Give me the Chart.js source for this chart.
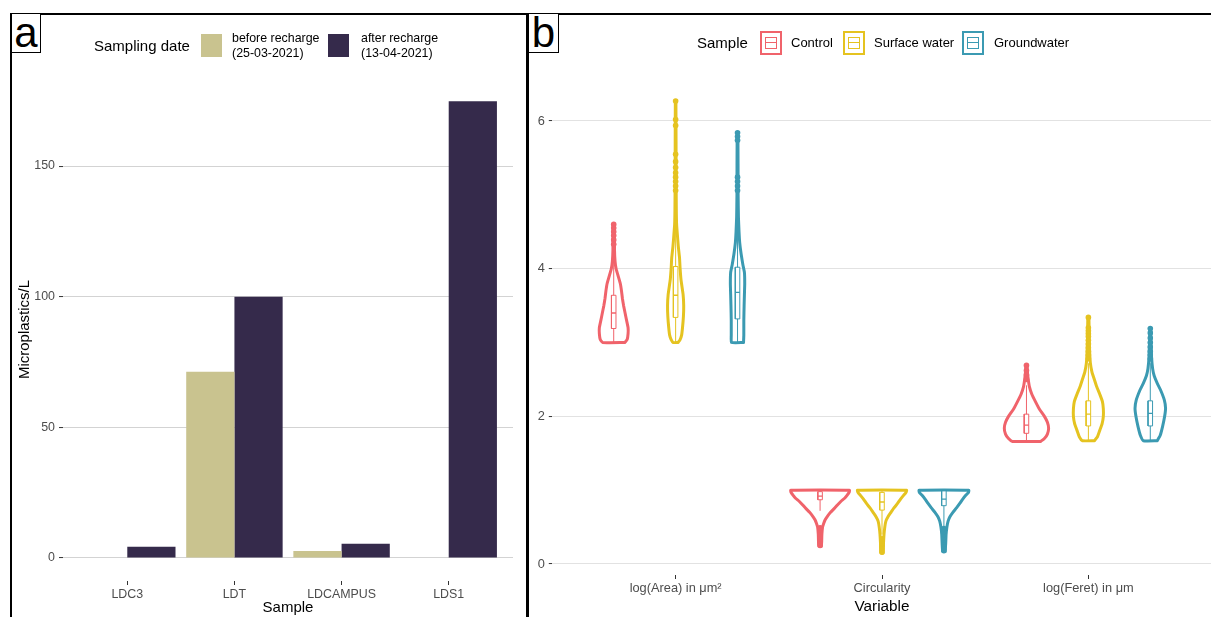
<!DOCTYPE html>
<html>
<head>
<meta charset="utf-8">
<script src="https://cdn.jsdelivr.net/npm/chart.js@4.4.1/dist/chart.umd.min.js"></script>
<style>
  html, body { margin: 0; padding: 0; background: #fff; overflow: hidden; width: 1211px; height: 617px; }
  body { position: relative; font-family: 'Liberation Sans', Arial, sans-serif; color: #000; }
  .abs { position: absolute; }
  #frameTop { left: 10px; top: 13px; width: 1201px; height: 2px; background: #000; }
  #frameLeft { left: 10px; top: 13px; width: 2px; height: 604px; background: #000; }
  #divider { left: 526px; top: 13px; width: 3px; height: 604px; background: #000; }
  .tag { position: absolute; top: 14px; height: 38px; border-right: 1px solid #000; border-bottom: 1px solid #000;
         font-size: 42px; line-height: 38px; text-align: center; color: #000; background: #fff; overflow: hidden; }
  #tagA { left: 12px; width: 28px; }
  #tagB { left: 529px; width: 29px; }
  .legTitle { font-size: 15px; line-height: 18px; white-space: nowrap; }
  .legA { font-size: 12.4px; line-height: 14.6px; white-space: nowrap; }
  .legB { font-size: 13px; line-height: 16px; white-space: nowrap; top: 35px; }
  .swatch { position: absolute; top: 34px; width: 21px; height: 23px; }
  .key { position: absolute; top: 31px; width: 22px; height: 24px; box-sizing: border-box; border: 2.5px solid; background: #fff; }
  .key .kb { position: absolute; left: 3px; right: 3px; top: 4px; bottom: 4px; border: 1px solid; }
  .key .km { position: absolute; left: 3px; right: 3px; top: 9px; height: 1px; }
  canvas { position: absolute; }
</style>
</head>
<body>
<div id="frameTop" class="abs"></div>
<div id="frameLeft" class="abs"></div>
<div id="divider" class="abs"></div>

<canvas id="chartA" width="514" height="601" style="left:12px;top:16px;width:514px;height:601px"></canvas>
<canvas id="chartB" width="686" height="601" style="left:529px;top:16px;width:686px;height:601px"></canvas>

<div id="tagA" class="tag">a</div>
<div id="tagB" class="tag">b</div>

<!-- legend, panel a -->
<div class="abs legTitle" style="left:94px;top:37px">Sampling date</div>
<div class="swatch" id="swBefore" style="left:201px"></div>
<div class="abs legA" style="left:232px;top:31px">before recharge<br>(25-03-2021)</div>
<div class="swatch" id="swAfter" style="left:328px"></div>
<div class="abs legA" style="left:361px;top:31px">after recharge<br>(13-04-2021)</div>

<!-- legend, panel b -->
<div class="abs legTitle" style="left:697px;top:34px">Sample</div>
<div id="legendB"></div>

<script>
// ---------- panel a: microplastic counts per sample ----------
const sampleNames = ['LDC3', 'LDT', 'LDCAMPUS', 'LDS1'];
const beforeRecharge = [0, 71.3, 2.7, 0];
const afterRecharge = [4.3, 100, 5.5, 174.8];
const countTicks = [0, 50, 100, 150];

// ---------- panel b: particle shape descriptors ----------
const variableNames = ['log(Area) in μm²', 'Circularity', 'log(Feret) in μm'];
const groupNames = ['Control', 'Surface water', 'Groundwater'];
const shapeTicks = [0, 2, 4, 6];

// violin outlines: levels (y) and relative kernel density at each level
const areaControlLevels  = [3.00, 3.04, 3.12, 3.20, 3.30, 3.40, 3.50, 3.60, 3.70, 3.80, 3.90, 4.00, 4.10, 4.25, 4.60];
const areaControlDensity = [0.37, 0.45, 0.48, 0.48, 0.43, 0.38, 0.33, 0.29, 0.26, 0.22, 0.15, 0.08, 0.045, 0.027, 0.02];
const areaSurfaceLevels  = [3.00, 3.04, 3.10, 3.20, 3.35, 3.50, 3.65, 3.85, 4.00, 4.15, 4.30, 4.45, 4.60, 4.80, 5.20, 6.27];
const areaSurfaceDensity = [0.08, 0.15, 0.20, 0.23, 0.26, 0.27, 0.25, 0.18, 0.15, 0.13, 0.09, 0.06, 0.033, 0.023, 0.017, 0.01];
const areaGroundLevels   = [3.00, 3.10, 3.30, 3.50, 3.65, 3.80, 3.95, 4.05, 4.20, 4.35, 4.50, 4.70, 5.00, 5.84];
const areaGroundDensity  = [0.20, 0.21, 0.21, 0.22, 0.23, 0.24, 0.23, 0.18, 0.12, 0.073, 0.05, 0.03, 0.02, 0.013];

const circControlLevels  = [0.24, 0.30, 0.40, 0.50, 0.55, 0.60, 0.65, 0.70, 0.75, 0.80, 0.85, 0.89, 0.93, 0.97, 1.00];
const circControlDensity = [0.04, 0.053, 0.06, 0.083, 0.12, 0.17, 0.25, 0.35, 0.47, 0.58, 0.70, 0.82, 0.90, 0.97, 0.98];
const circSurfaceLevels  = [0.15, 0.28, 0.40, 0.50, 0.58, 0.64, 0.70, 0.76, 0.82, 0.88, 0.93, 0.97, 1.00];
const circSurfaceDensity = [0.033, 0.05, 0.067, 0.093, 0.13, 0.20, 0.30, 0.40, 0.52, 0.62, 0.72, 0.80, 0.82];
const circGroundLevels   = [0.17, 0.28, 0.40, 0.50, 0.58, 0.64, 0.70, 0.76, 0.82, 0.88, 0.93, 0.97, 1.00];
const circGroundDensity  = [0.04, 0.06, 0.073, 0.10, 0.14, 0.20, 0.30, 0.42, 0.53, 0.63, 0.73, 0.82, 0.83];

const feretControlLevels  = [1.66, 1.70, 1.76, 1.84, 1.92, 2.00, 2.10, 2.20, 2.30, 2.40, 2.50, 2.60, 2.69];
const feretControlDensity = [0.47, 0.60, 0.70, 0.74, 0.70, 0.60, 0.43, 0.30, 0.18, 0.10, 0.06, 0.033, 0.02];
const feretSurfaceLevels  = [1.67, 1.72, 1.81, 1.90, 2.00, 2.10, 2.20, 2.30, 2.40, 2.50, 2.60, 2.72, 2.90, 3.10, 3.34];
const feretSurfaceDensity = [0.20, 0.30, 0.38, 0.46, 0.50, 0.50, 0.47, 0.38, 0.28, 0.20, 0.12, 0.067, 0.04, 0.027, 0.017];
const feretGroundLevels   = [1.67, 1.74, 1.86, 2.00, 2.11, 2.22, 2.36, 2.45, 2.55, 2.65, 2.80, 3.00, 3.19];
const feretGroundDensity  = [0.23, 0.33, 0.41, 0.48, 0.51, 0.47, 0.34, 0.23, 0.13, 0.077, 0.043, 0.027, 0.017];

// boxplot summaries: [lower whisker, Q1, median, Q3, upper whisker]
const areaControlBox  = [3.00, 3.19, 3.40, 3.64, 4.28];
const areaSurfaceBox  = [3.00, 3.34, 3.64, 4.03, 5.00];
const areaGroundBox   = [3.00, 3.32, 3.68, 4.02, 5.00];
const circControlBox  = [0.72, 0.87, 0.92, 0.98, 1.00];
const circSurfaceBox  = [0.40, 0.73, 0.84, 0.97, 1.00];
const circGroundBox   = [0.50, 0.79, 0.88, 0.99, 1.00];
const feretControlBox = [1.66, 1.77, 1.88, 2.03, 2.42];
const feretSurfaceBox = [1.67, 1.87, 2.03, 2.21, 2.72];
const feretGroundBox  = [1.67, 1.87, 2.04, 2.21, 2.72];

// boxplot outliers
const areaControlOutliers  = [4.60, 4.55, 4.50, 4.45, 4.39, 4.33];
const areaSurfaceOutliers  = [6.27, 6.02, 5.94, 5.55, 5.45, 5.37, 5.30, 5.24, 5.18, 5.12, 5.06];
const areaGroundOutliers   = [5.84, 5.79, 5.74, 5.24, 5.18, 5.12, 5.06];
const circControlOutliers  = [0.25, 0.28, 0.31, 0.34, 0.37, 0.40, 0.43, 0.46, 0.49];
const circSurfaceOutliers  = [0.16, 0.19, 0.22, 0.25, 0.28, 0.31, 0.34];
const circGroundOutliers   = [0.18, 0.21, 0.24, 0.27, 0.30, 0.33, 0.36, 0.40, 0.44, 0.48];
const feretControlOutliers = [2.69, 2.62, 2.56, 2.50];
const feretSurfaceOutliers = [3.34, 3.20, 3.16, 3.12, 3.08, 3.03, 2.98, 2.93, 2.88, 2.83, 2.78];
const feretGroundOutliers  = [3.19, 3.13, 3.06, 3.00, 2.94, 2.88, 2.83, 2.78];

// ---------- styling ----------
const FONT = "'Liberation Sans', Arial, sans-serif";
const barColors = ['#C9C38F', '#352A4B'];
const groupColors = ['#F0636B', '#E5C320', '#3B9AB2'];

document.getElementById('swBefore').style.background = barColors[0];
document.getElementById('swAfter').style.background = barColors[1];

// legend keys for panel b
(function () {
  const host = document.getElementById('legendB');
  const keyLeft = [760, 843, 962];
  const textLeft = [791, 874, 994];
  groupNames.forEach((name, i) => {
    const c = groupColors[i];
    const key = document.createElement('div');
    key.className = 'key';
    key.style.left = keyLeft[i] + 'px';
    key.style.borderColor = c;
    key.innerHTML = '<div class="kb" style="border-color:' + c + '"></div><div class="km" style="background:' + c + '"></div>';
    host.appendChild(key);
    const lab = document.createElement('div');
    lab.className = 'abs legB';
    lab.style.left = textLeft[i] + 'px';
    lab.textContent = name;
    host.appendChild(lab);
  });
})();

const fixedTicks = (values) => (scale) => { scale.ticks = values.map(v => ({ value: v })); };

// ---------- panel a chart ----------
new Chart(document.getElementById('chartA'), {
  type: 'bar',
  data: {
    datasets: [
      { label: 'before recharge (25-03-2021)', data: beforeRecharge.map((v, i) => ({ x: i + 1, y: v })),
        backgroundColor: barColors[0], borderWidth: 0 },
      { label: 'after recharge (13-04-2021)', data: afterRecharge.map((v, i) => ({ x: i + 1, y: v })),
        backgroundColor: barColors[1], borderWidth: 0 }
    ]
  },
  options: {
    responsive: false, animation: false, events: [],
    categoryPercentage: 0.9, barPercentage: 1.0,
    layout: { padding: { left: 0, right: 13, top: 62, bottom: 0 } },
    plugins: { legend: { display: false }, tooltip: { enabled: false } },
    scales: {
      x: {
        type: 'linear', min: 0.4, max: 4.6, offset: false,
        afterBuildTicks: fixedTicks(sampleNames.map((_, i) => i + 1)),
        afterFit: (s) => { s.height = 36; },
        border: { display: false },
        grid: { offset: false, drawOnChartArea: false, drawTicks: true, tickLength: 4, tickColor: '#333', tickWidth: 1 },
        ticks: { autoSkip: false, maxRotation: 0, padding: 2, color: '#4d4d4d', font: { family: FONT, size: 12.4 },
                 callback: (v) => sampleNames[v - 1] },
        title: { display: true, text: 'Sample', color: '#000', font: { family: FONT, size: 15 }, padding: { top: 0, bottom: 0 } }
      },
      y: {
        type: 'linear', min: -8.8, max: 183.7,
        afterBuildTicks: fixedTicks(countTicks),
        afterFit: (s) => { s.width = 51; },
        border: { display: false },
        grid: { color: '#d3d3d3', lineWidth: 1.1, drawTicks: true, tickLength: 4, tickColor: '#333', tickWidth: 1 },
        ticks: { padding: 4, color: '#4d4d4d', font: { family: FONT, size: 12.4 } },
        title: { display: true, text: 'Microplastics/L', color: '#000', font: { family: FONT, size: 15 }, padding: { top: 4, bottom: 0 } }
      }
    }
  }
});

// ---------- panel b chart ----------
const violinSet = [
  { v: 0, g: 0, levels: areaControlLevels,  density: areaControlDensity,  box: areaControlBox,  out: areaControlOutliers },
  { v: 0, g: 1, levels: areaSurfaceLevels,  density: areaSurfaceDensity,  box: areaSurfaceBox,  out: areaSurfaceOutliers },
  { v: 0, g: 2, levels: areaGroundLevels,   density: areaGroundDensity,   box: areaGroundBox,   out: areaGroundOutliers },
  { v: 1, g: 0, levels: circControlLevels,  density: circControlDensity,  box: circControlBox,  out: circControlOutliers },
  { v: 1, g: 1, levels: circSurfaceLevels,  density: circSurfaceDensity,  box: circSurfaceBox,  out: circSurfaceOutliers },
  { v: 1, g: 2, levels: circGroundLevels,   density: circGroundDensity,   box: circGroundBox,   out: circGroundOutliers },
  { v: 2, g: 0, levels: feretControlLevels, density: feretControlDensity, box: feretControlBox, out: feretControlOutliers },
  { v: 2, g: 1, levels: feretSurfaceLevels, density: feretSurfaceDensity, box: feretSurfaceBox, out: feretSurfaceOutliers },
  { v: 2, g: 2, levels: feretGroundLevels,  density: feretGroundDensity,  box: feretGroundBox,  out: feretGroundOutliers }
];

const DODGE = [-0.3, 0, 0.3];   // group offset within a variable
const VIOLIN_HALF = 0.145;      // half width of the widest violin, in x units
const BOX_HALF = 0.011;         // half width of the boxplot

const shapeDatasets = [];
violinSet.forEach(vs => {
  const col = groupColors[vs.g];
  const cx = vs.v + 1 + DODGE[vs.g];
  const right = vs.levels.map((y, i) => ({ x: cx + vs.density[i] * VIOLIN_HALF, y }));
  const left = vs.levels.map((y, i) => ({ x: cx - vs.density[i] * VIOLIN_HALF, y })).reverse();
  const [lo, q1, med, q3, hi] = vs.box;
  const base = { showLine: true, pointRadius: 0, pointHoverRadius: 0, fill: false };

  shapeDatasets.push(Object.assign({}, base, {
    label: groupNames[vs.g], data: right.concat(left, [right[0]]),
    borderColor: col, borderWidth: 3, tension: 0.15, borderJoinStyle: 'round', borderCapStyle: 'round', order: 5
  }));
  shapeDatasets.push({
    data: vs.out.map(y => ({ x: cx, y })), showLine: false,
    pointRadius: 2.8, pointHoverRadius: 0, pointBackgroundColor: col, pointBorderWidth: 0, order: 4
  });
  shapeDatasets.push(Object.assign({}, base, {
    data: [{ x: cx, y: lo }, { x: cx, y: hi }], borderColor: col, borderWidth: 1, order: 3
  }));
  shapeDatasets.push(Object.assign({}, base, {
    data: [{ x: cx - BOX_HALF, y: q1 }, { x: cx + BOX_HALF, y: q1 }, { x: cx + BOX_HALF, y: q3 },
           { x: cx - BOX_HALF, y: q3 }, { x: cx - BOX_HALF, y: q1 }],
    borderColor: col, borderWidth: 1, backgroundColor: '#ffffff', fill: 'shape', order: 2
  }));
  shapeDatasets.push(Object.assign({}, base, {
    data: [{ x: cx - BOX_HALF, y: med }, { x: cx + BOX_HALF, y: med }], borderColor: col, borderWidth: 1.3, order: 1
  }));
});

new Chart(document.getElementById('chartB'), {
  type: 'scatter',
  data: { datasets: shapeDatasets },
  options: {
    responsive: false, animation: false, events: [],
    layout: { padding: { left: 0, right: 0, top: 62, bottom: 0 } },
    plugins: { legend: { display: false }, tooltip: { enabled: false } },
    scales: {
      x: {
        type: 'linear', min: 0.4, max: 3.6, offset: false,
        afterBuildTicks: fixedTicks(variableNames.map((_, i) => i + 1)),
        afterFit: (s) => { s.height = 42; },
        border: { display: false },
        grid: { drawOnChartArea: false, drawTicks: true, tickLength: 4, tickColor: '#333', tickWidth: 1 },
        ticks: { autoSkip: false, maxRotation: 0, padding: 2, color: '#4d4d4d', font: { family: FONT, size: 12.8 },
                 callback: (v) => variableNames[v - 1] },
        title: { display: true, text: 'Variable', color: '#000', font: { family: FONT, size: 15.3 }, padding: { top: 0, bottom: 1 } }
      },
      y: {
        type: 'linear', min: -0.149, max: 6.583,
        afterBuildTicks: fixedTicks(shapeTicks),
        afterFit: (s) => { s.width = 22.8; },
        border: { display: false },
        grid: { color: '#e2e2e2', lineWidth: 1.1, drawTicks: true, tickLength: 3, tickColor: '#333', tickWidth: 1 },
        ticks: { padding: 4, color: '#4d4d4d', font: { family: FONT, size: 12.8 } }
      }
    }
  }
});
</script>
</body>
</html>
